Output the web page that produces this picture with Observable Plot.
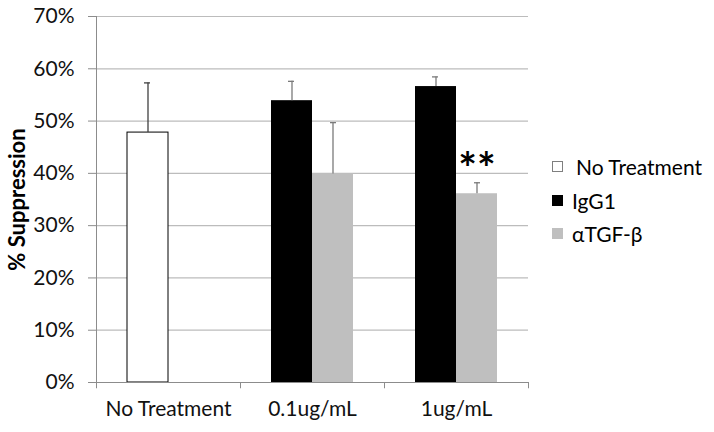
<!DOCTYPE html>
<html>
<head>
<meta charset="utf-8">
<script src="https://cdn.jsdelivr.net/npm/d3@7"></script>
<script src="https://cdn.jsdelivr.net/npm/@observablehq/plot@0.6"></script>
<style>
  html, body { margin: 0; padding: 0; background: #fff; }
  #wrap { position: relative; width: 714px; height: 432px; font-family: Lato, "Liberation Sans", Arial, sans-serif; }
  #legend { position: absolute; left: 552px; top: 0; font-size: 21px; color: #000; }
  .row { position: absolute; left: 0; display: flex; align-items: center; white-space: nowrap; height: 24px; }
  .sw { width: 11px; height: 11px; box-sizing: border-box; flex: none; }
</style>
</head>
<body>
<div id="wrap"><div id="legend"></div></div>
<script>
const categories = ["No Treatment", "0.1ug/mL", "1ug/mL"];
const seriesNames = ["No Treatment", "IgG1", "αTGF-β"];
const seriesColors = ["#ffffff", "#000000", "#bfbfbf"];
const noTreatmentValues = [47.8, null, null];
const noTreatmentErrors = [9.5, null, null];
const igg1Values = [null, 53.9, 56.6];
const igg1Errors = [null, 3.7, 1.85];
const tgfValues = [null, 39.9, 36.1];
const tgfErrors = [null, 9.8, 2.1];
const significance = ["", "", "**"];
const yTicks = [0, 10, 20, 30, 40, 50, 60, 70];
const yTitle = "% Suppression";

function rowsFor(series, values, errors) {
  return categories.map((c, i) => ({category: c, series, value: values[i], err: errors[i], sig: significance[i]}))
    .filter(d => d.value != null);
}
const noRows = rowsFor("No Treatment", noTreatmentValues, noTreatmentErrors);
const iggRows = rowsFor("IgG1", igg1Values, igg1Errors);
const tgfRows = rowsFor("αTGF-β", tgfValues, tgfErrors);
const sigRows = tgfRows.filter(d => d.sig);

// slot a (left of band centre) and slot b (right)
const A = {insetLeft: 31, insetRight: 72, dx: -20.5, capL: 48, capR: 90};
const B = {insetLeft: 72, insetRight: 31, dx: 20.5, capL: 90, capR: 48};

function errMarks(rows, slot, color) {
  return [
    Plot.ruleX(rows, {x: "category", y1: "value", y2: d => d.value + d.err, dx: slot.dx, stroke: color, strokeWidth: 1.3}),
    Plot.tickY(rows, {x: "category", y: d => d.value + d.err, insetLeft: slot.capL, insetRight: slot.capR, stroke: color, strokeWidth: 1.3})
  ];
}

const font = "Lato, Liberation Sans, Arial, sans-serif";
const chart = Plot.plot({
  width: 714,
  height: 432,
  marginLeft: 96,
  marginRight: 186,
  marginTop: 16,
  marginBottom: 50,
  style: {fontFamily: font, fontSize: "21px", color: "#000", background: "#fff"},
  x: {domain: categories, padding: 0, label: null, axis: null},
  y: {domain: [0, 70], ticks: yTicks, label: null, axis: null},
  color: {domain: seriesNames, range: seriesColors},
  marks: [
    Plot.ruleY(yTicks.slice(1), {stroke: "#bcbcbc", strokeWidth: 1.2}),
    Plot.axisY({ticks: yTicks, tickFormat: d => d + "%", tickSize: 8, tickPadding: 14, stroke: "#8c8c8c", fill: "#111", fontSize: 21, label: null}),
    Plot.axisX({tickSize: 0, tickPadding: 19, fontSize: 21, fill: "#111", label: null}),
    Plot.ruleX([categories[0]], {x: d => d, dx: -72, stroke: "#8c8c8c"}),
    Plot.ruleX(categories, {x: d => d, dx: -72, y1: 0, y2: -1.2, stroke: "#8c8c8c"}),
    Plot.ruleX([categories[categories.length - 1]], {x: d => d, dx: 72, y1: 0, y2: -1.2, stroke: "#8c8c8c"}),
    Plot.barY(noRows, {x: "category", y: "value", fill: "series", stroke: "#000", strokeWidth: 1, insetLeft: A.insetLeft, insetRight: A.insetRight}),
    Plot.barY(iggRows, {x: "category", y: "value", fill: "series", insetLeft: A.insetLeft, insetRight: A.insetRight}),
    Plot.barY(tgfRows, {x: "category", y: "value", fill: "series", insetLeft: B.insetLeft, insetRight: B.insetRight}),
    Plot.ruleY([0], {stroke: "#8c8c8c"}),
    ...errMarks(noRows, A, "#404040"),
    ...errMarks(iggRows, A, "#7a7a7a"),
    ...errMarks(tgfRows, B, "#7a7a7a"),
    Plot.text(sigRows, {x: "category", y: d => d.value + d.err, text: "sig", dx: B.dx, dy: 1, lineAnchor: "bottom", fontSize: 44, fontWeight: "bold", fill: "#000"}),
    Plot.text([yTitle], {frameAnchor: "left", dx: -79, rotate: -90, textAnchor: "middle", text: d => d, fontSize: 22, fontWeight: "bold", fill: "#000"})
  ]
});
document.getElementById("wrap").prepend(chart);

// legend
const legend = document.getElementById("legend");
const rowCentres = [166, 200, 233];
const gaps = [13, 9, 9];
const borders = ["1px solid #7f7f7f", "none", "none"];
seriesNames.forEach((name, i) => {
  const row = document.createElement("div");
  row.className = "row";
  row.style.top = (rowCentres[i] - 12) + "px";
  const sw = document.createElement("div");
  sw.className = "sw";
  sw.style.background = seriesColors[i];
  sw.style.border = borders[i];
  sw.style.marginRight = gaps[i] + "px";
  const label = document.createElement("span");
  label.textContent = name;
  row.append(sw, label);
  legend.append(row);
});
</script>
</body>
</html>
